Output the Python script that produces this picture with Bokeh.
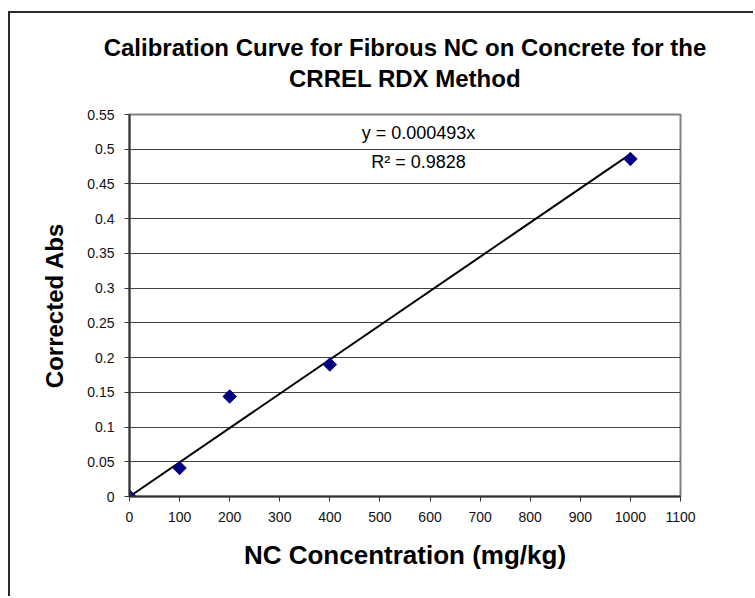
from bokeh.plotting import figure
from bokeh.models import Label, Title
from bokeh.embed import file_html
from bokeh.resources import INLINE
import math

# ---- data ----
conc = [0, 100, 200, 400, 1000]
absorb = [0.0, 0.041, 0.144, 0.19, 0.486]
slope = 0.000493
r_squared = "0.9828"
trend_x = [0, 1000]
x_ticks = [0, 100, 200, 300, 400, 500, 600, 700, 800, 900, 1000, 1100]
y_ticks = [0, 0.05, 0.1, 0.15, 0.2, 0.25, 0.3, 0.35, 0.4, 0.45, 0.5, 0.55]
y_tick_labels = ["0", "0.05", "0.1", "0.15", "0.2", "0.25", "0.3", "0.35",
                 "0.4", "0.45", "0.5", "0.55"]
title_lines = ["Calibration Curve for Fibrous NC on Concrete for the",
               "CRREL RDX Method"]
x_title = "NC Concentration (mg/kg)"
y_title = "Corrected Abs"

FONT = "Liberation Sans"

p = figure(width=745, height=585, x_range=(0, 1100), y_range=(0, 0.55),
           output_backend="svg", toolbar_location=None,
           min_border_left=119, min_border_right=75,
           min_border_top=101, min_border_bottom=102)
p.margin = (11, 0, 0, 8)
p.styles = {"border-left": "2px solid #2a2a2a", "border-top": "2px solid #2a2a2a"}
p.background_fill_color = "white"
p.border_fill_color = "white"
p.outline_line_color = "#808080"
p.outline_line_width = 2

# axes
for ax in (p.xaxis[0], p.yaxis[0]):
    ax.axis_line_color = "#333333"
    ax.axis_line_width = 2
    ax.major_tick_line_color = "#333333"
    ax.major_tick_in = 0
    ax.major_tick_out = 5
    ax.minor_tick_out = 0
    ax.minor_tick_in = 0
    ax.major_label_text_font = FONT
    ax.major_label_text_font_size = "14px"
    ax.major_label_text_color = "#111111"
    ax.axis_label_text_font = FONT
    ax.axis_label_text_font_style = "bold"
    ax.axis_label_text_color = "black"

p.xaxis.axis_label_text_font_size = "26px"
p.yaxis.axis_label_text_font_size = "24px"
p.xaxis.ticker = x_ticks
p.yaxis.ticker = y_ticks
p.yaxis.major_label_overrides = {t: l for t, l in zip(y_ticks, y_tick_labels)}
p.xaxis.major_label_standoff = 10
p.yaxis.major_label_standoff = 10
p.xaxis.axis_label = x_title
p.yaxis.axis_label = y_title
p.xaxis.axis_label_standoff = 15
p.yaxis.axis_label_standoff = 16

p.xgrid.visible = False
p.ygrid.ticker = y_ticks
p.ygrid.grid_line_color = "#444444"
p.ygrid.grid_line_width = 1

# trendline
trend_y = [slope * x for x in trend_x]
p.line(trend_x, trend_y, line_color="black", line_width=2)

# data points
p.scatter(conc, absorb, marker="square", angle=math.pi / 4, size=9.5,
          fill_color="#000080", line_color="#000080")

# equation labels
p.add_layout(Label(x=577, y=0.524, text=f"y = {slope}x",
                   text_align="center", text_baseline="middle",
                   text_font=FONT, text_font_size="18px", text_color="black"))
p.add_layout(Label(x=577, y=0.482, text=f"R\u00b2 = {r_squared}",
                   text_align="center", text_baseline="middle",
                   text_font=FONT, text_font_size="18px", text_color="black"))

# title: blank (white) spacer nearest the frame, then line 2, then line 1
spacer = Title(text=" ", align="center", standoff=8, text_font=FONT,
               text_font_size="10px", text_color="white")
t2 = Title(text=title_lines[1], align="center", standoff=2.2,
           text_font=FONT, text_font_style="bold", text_font_size="24px",
           text_color="black")
t1 = Title(text=title_lines[0], align="center", standoff=2.2,
           text_font=FONT, text_font_style="bold", text_font_size="24px",
           text_color="black")
p.add_layout(spacer, "above")
p.add_layout(t2, "above")
p.add_layout(t1, "above")

open("out.html", "w").write(file_html(p, INLINE))
